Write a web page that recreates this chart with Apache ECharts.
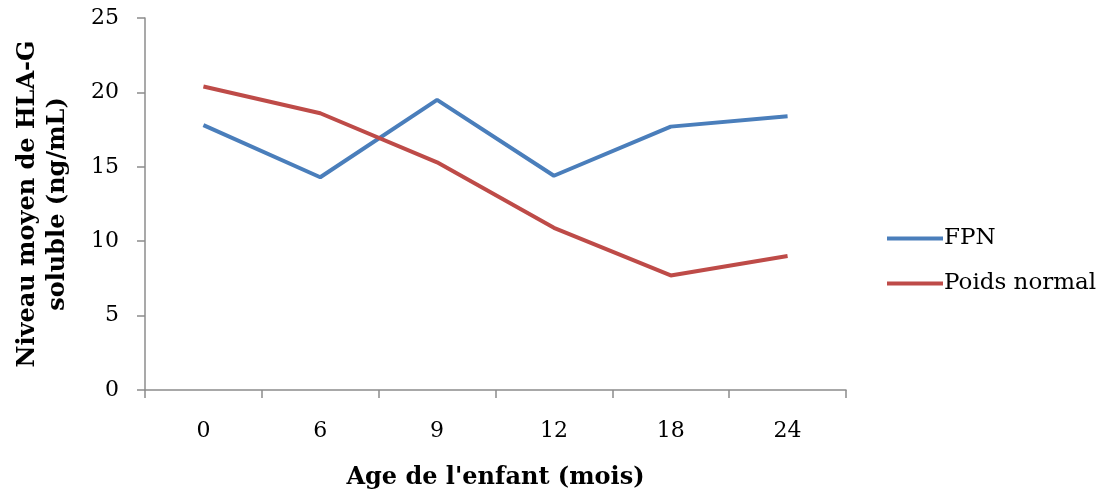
<!DOCTYPE html>
<html>
<head>
<meta charset="utf-8">
<script src="https://cdn.jsdelivr.net/npm/echarts@6/dist/echarts.min.js"></script>
<style>
html, body { margin: 0; padding: 0; background: #fff; }
#main { width: 1110px; height: 499px; }
</style>
</head>
<body>
<div id="main"></div>
<script>
// données
var ages = ['0', '6', '9', '12', '18', '24'];
var fpn = [17.8, 14.3, 19.5, 14.4, 17.7, 18.4];
var poidsNormal = [20.4, 18.6, 15.3, 10.9, 7.7, 9.0];

var police = 'DejaVu Serif';
var axeCouleur = '#8c8c8c';

var myChart = echarts.init(document.getElementById('main'));

var option = {
	backgroundColor: '#fff',
	animation: false,
	textStyle: { fontFamily: police },
	grid: { left: 145, right: 264, top: 18, bottom: 109, containLabel: false, outerBoundsMode: 'none' },
	legend: {
		orient: 'vertical',
		left: 882,
		top: 222,
		itemWidth: 56,
		itemHeight: 4,
		itemGap: 22,
		icon: 'rect',
		textStyle: { fontFamily: police, fontSize: 23, color: '#000', padding: [0, 0, 0, -4] },
		data: ['FPN', 'Poids normal']
	},
	xAxis: {
		type: 'category',
		data: ages,
		boundaryGap: true,
		name: "Age de l'enfant (mois)",
		nameLocation: 'middle',
		nameGap: 76,
		nameTextStyle: { fontFamily: police, fontSize: 24, fontWeight: 'bold', color: '#000' },
		axisLine: { lineStyle: { color: axeCouleur, width: 1.5 } },
		axisTick: { show: true, length: 8, lineStyle: { color: axeCouleur, width: 1.5 } },
		axisLabel: { margin: 30, fontSize: 22, color: '#000', fontFamily: police },
		splitLine: { show: false }
	},
	yAxis: {
		type: 'value',
		min: 0,
		max: 25,
		interval: 5,
		name: 'Niveau moyen de HLA-G\nsoluble (ng/mL)',
		nameLocation: 'middle',
		nameRotate: 90,
		nameGap: 72,
		nameTextStyle: { fontFamily: police, fontSize: 24, fontWeight: 'bold', color: '#000', lineHeight: 30 },
		axisLine: { show: true, lineStyle: { color: axeCouleur, width: 1.5 } },
		axisTick: { show: true, length: 8, lineStyle: { color: axeCouleur, width: 1.5 } },
		axisLabel: { margin: 26, fontSize: 22, color: '#000', fontFamily: police },
		splitLine: { show: false }
	},
	series: [
		{
			name: 'FPN',
			type: 'line',
			data: fpn,
			symbol: 'none',
			lineStyle: { color: '#4a7ebb', width: 4 },
			itemStyle: { color: '#4a7ebb' }
		},
		{
			name: 'Poids normal',
			type: 'line',
			data: poidsNormal,
			symbol: 'none',
			lineStyle: { color: '#be4b48', width: 4 },
			itemStyle: { color: '#be4b48' }
		}
	]
};

myChart.setOption(option);
</script>
</body>
</html>
